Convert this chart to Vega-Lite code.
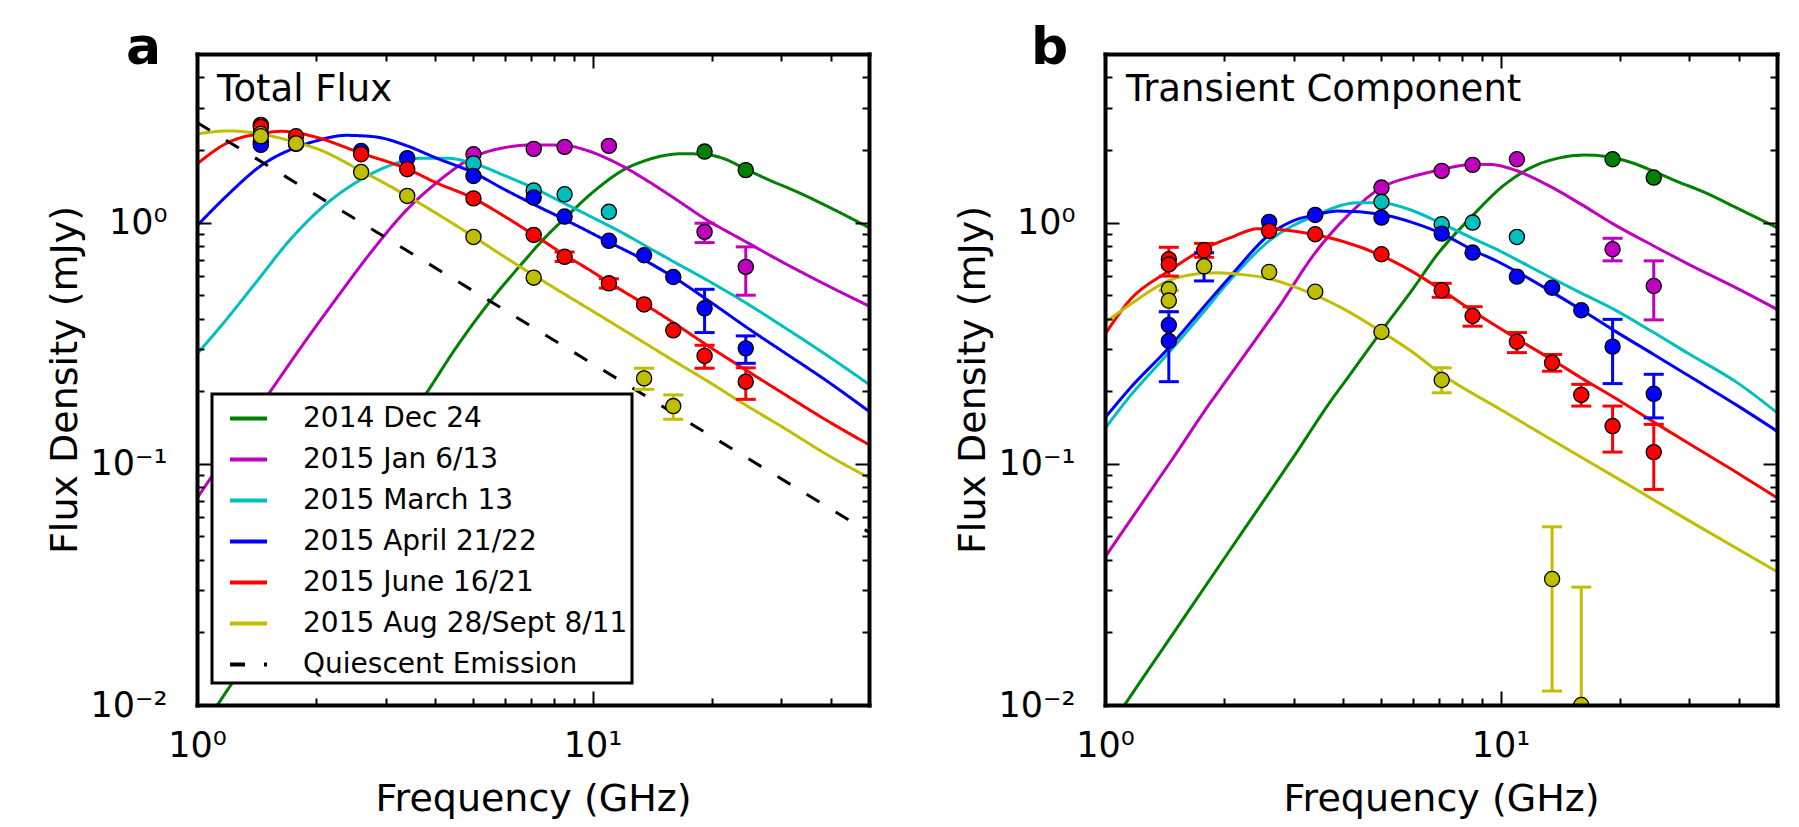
{
  "$schema": "https://vega.github.io/schema/vega-lite/v6.json",
  "background": "white",
  "padding": {"left": 46, "top": 21, "right": 5, "bottom": 5},
  "datasets": {
    "curvesA": [
      {"s":"2014 Dec 24","f":1.0,"v":0.0075},{"s":"2014 Dec 24","f":1.14,"v":0.0103},{"s":"2014 Dec 24","f":1.5,"v":0.0203},{"s":"2014 Dec 24","f":2.0,"v":0.041},{"s":"2014 Dec 24","f":2.5,"v":0.071},{"s":"2014 Dec 24","f":3.0,"v":0.112},{"s":"2014 Dec 24","f":3.8,"v":0.196},{"s":"2014 Dec 24","f":4.5,"v":0.3},{"s":"2014 Dec 24","f":5.5,"v":0.47},{"s":"2014 Dec 24","f":6.65,"v":0.68},{"s":"2014 Dec 24","f":7.5,"v":0.85},{"s":"2014 Dec 24","f":8.55,"v":1.05},{"s":"2014 Dec 24","f":10.2,"v":1.37},{"s":"2014 Dec 24","f":12.1,"v":1.67},{"s":"2014 Dec 24","f":13.5,"v":1.8},{"s":"2014 Dec 24","f":15.0,"v":1.89},{"s":"2014 Dec 24","f":17.0,"v":1.93},{"s":"2014 Dec 24","f":19.2,"v":1.92},{"s":"2014 Dec 24","f":21.5,"v":1.84},{"s":"2014 Dec 24","f":24.5,"v":1.66},{"s":"2014 Dec 24","f":28,"v":1.5},{"s":"2014 Dec 24","f":32.6,"v":1.35},{"s":"2014 Dec 24","f":40,"v":1.15},{"s":"2014 Dec 24","f":50,"v":0.953},
      {"s":"2015 Jan 6/13","f":1.0,"v":0.072},{"s":"2015 Jan 6/13","f":1.25,"v":0.123},{"s":"2015 Jan 6/13","f":1.55,"v":0.205},{"s":"2015 Jan 6/13","f":1.88,"v":0.323},{"s":"2015 Jan 6/13","f":2.29,"v":0.504},{"s":"2015 Jan 6/13","f":2.77,"v":0.763},{"s":"2015 Jan 6/13","f":3.37,"v":1.118},{"s":"2015 Jan 6/13","f":4.09,"v":1.49},{"s":"2015 Jan 6/13","f":4.97,"v":1.86},{"s":"2015 Jan 6/13","f":6.03,"v":2.05},{"s":"2015 Jan 6/13","f":7.1,"v":2.1},{"s":"2015 Jan 6/13","f":8.5,"v":2.09},{"s":"2015 Jan 6/13","f":9.6,"v":2.0},{"s":"2015 Jan 6/13","f":11,"v":1.83},{"s":"2015 Jan 6/13","f":12.1,"v":1.69},{"s":"2015 Jan 6/13","f":13.5,"v":1.52},{"s":"2015 Jan 6/13","f":16,"v":1.27},{"s":"2015 Jan 6/13","f":19.2,"v":1.04},{"s":"2015 Jan 6/13","f":24.5,"v":0.83},{"s":"2015 Jan 6/13","f":30,"v":0.69},{"s":"2015 Jan 6/13","f":40,"v":0.54},{"s":"2015 Jan 6/13","f":50,"v":0.451},
      {"s":"2015 March 13","f":1.0,"v":0.285},{"s":"2015 March 13","f":1.16,"v":0.379},{"s":"2015 March 13","f":1.41,"v":0.565},{"s":"2015 March 13","f":1.71,"v":0.84},{"s":"2015 March 13","f":2.07,"v":1.154},{"s":"2015 March 13","f":2.6,"v":1.51},{"s":"2015 March 13","f":3.06,"v":1.72},{"s":"2015 March 13","f":3.71,"v":1.85},{"s":"2015 March 13","f":4.26,"v":1.85},{"s":"2015 March 13","f":5.0,"v":1.76},{"s":"2015 March 13","f":6.03,"v":1.56},{"s":"2015 March 13","f":7.17,"v":1.38},{"s":"2015 March 13","f":8.5,"v":1.2},{"s":"2015 March 13","f":10,"v":1.05},{"s":"2015 March 13","f":12,"v":0.9},{"s":"2015 March 13","f":14,"v":0.78},{"s":"2015 March 13","f":16,"v":0.69},{"s":"2015 March 13","f":19.2,"v":0.585},{"s":"2015 March 13","f":24.4,"v":0.465},{"s":"2015 March 13","f":30,"v":0.375},{"s":"2015 March 13","f":40,"v":0.275},{"s":"2015 March 13","f":50,"v":0.2135},
      {"s":"2015 April 21/22","f":1.0,"v":0.97},{"s":"2015 April 21/22","f":1.2,"v":1.31},{"s":"2015 April 21/22","f":1.45,"v":1.72},{"s":"2015 April 21/22","f":1.78,"v":2.05},{"s":"2015 April 21/22","f":2.0,"v":2.18},{"s":"2015 April 21/22","f":2.38,"v":2.3},{"s":"2015 April 21/22","f":2.8,"v":2.27},{"s":"2015 April 21/22","f":3.4,"v":2.08},{"s":"2015 April 21/22","f":4.0,"v":1.86},{"s":"2015 April 21/22","f":5.0,"v":1.61},{"s":"2015 April 21/22","f":6.0,"v":1.37},{"s":"2015 April 21/22","f":7.1,"v":1.19},{"s":"2015 April 21/22","f":8.5,"v":1.03},{"s":"2015 April 21/22","f":10,"v":0.9},{"s":"2015 April 21/22","f":11,"v":0.83},{"s":"2015 April 21/22","f":13.5,"v":0.7},{"s":"2015 April 21/22","f":16,"v":0.595},{"s":"2015 April 21/22","f":20,"v":0.465},{"s":"2015 April 21/22","f":25,"v":0.36},{"s":"2015 April 21/22","f":30,"v":0.295},{"s":"2015 April 21/22","f":40,"v":0.215},{"s":"2015 April 21/22","f":50,"v":0.165},
      {"s":"2015 June 16/21","f":1.0,"v":1.75},{"s":"2015 June 16/21","f":1.2,"v":2.15},{"s":"2015 June 16/21","f":1.45,"v":2.34},{"s":"2015 June 16/21","f":1.64,"v":2.39},{"s":"2015 June 16/21","f":1.78,"v":2.36},{"s":"2015 June 16/21","f":2.0,"v":2.26},{"s":"2015 June 16/21","f":2.6,"v":1.94},{"s":"2015 June 16/21","f":3.4,"v":1.67},{"s":"2015 June 16/21","f":4.0,"v":1.47},{"s":"2015 June 16/21","f":5.0,"v":1.26},{"s":"2015 June 16/21","f":6.0,"v":1.06},{"s":"2015 June 16/21","f":7.1,"v":0.89},{"s":"2015 June 16/21","f":8.5,"v":0.735},{"s":"2015 June 16/21","f":10,"v":0.625},{"s":"2015 June 16/21","f":11,"v":0.565},{"s":"2015 June 16/21","f":13.5,"v":0.46},{"s":"2015 June 16/21","f":16,"v":0.385},{"s":"2015 June 16/21","f":19.2,"v":0.315},{"s":"2015 June 16/21","f":24.4,"v":0.245},{"s":"2015 June 16/21","f":30,"v":0.198},{"s":"2015 June 16/21","f":40,"v":0.148},{"s":"2015 June 16/21","f":50,"v":0.12},
      {"s":"2015 Aug 28/Sept 8/11","f":1.0,"v":2.33},{"s":"2015 Aug 28/Sept 8/11","f":1.2,"v":2.4},{"s":"2015 Aug 28/Sept 8/11","f":1.45,"v":2.33},{"s":"2015 Aug 28/Sept 8/11","f":1.78,"v":2.15},{"s":"2015 Aug 28/Sept 8/11","f":2.0,"v":2.03},{"s":"2015 Aug 28/Sept 8/11","f":2.6,"v":1.64},{"s":"2015 Aug 28/Sept 8/11","f":3.4,"v":1.29},{"s":"2015 Aug 28/Sept 8/11","f":4.0,"v":1.1},{"s":"2015 Aug 28/Sept 8/11","f":5.0,"v":0.875},{"s":"2015 Aug 28/Sept 8/11","f":6.0,"v":0.72},{"s":"2015 Aug 28/Sept 8/11","f":7.1,"v":0.605},{"s":"2015 Aug 28/Sept 8/11","f":8.5,"v":0.505},{"s":"2015 Aug 28/Sept 8/11","f":10,"v":0.43},{"s":"2015 Aug 28/Sept 8/11","f":13.5,"v":0.318},{"s":"2015 Aug 28/Sept 8/11","f":16,"v":0.268},{"s":"2015 Aug 28/Sept 8/11","f":20,"v":0.215},{"s":"2015 Aug 28/Sept 8/11","f":24,"v":0.178},{"s":"2015 Aug 28/Sept 8/11","f":30,"v":0.143},{"s":"2015 Aug 28/Sept 8/11","f":40,"v":0.107},{"s":"2015 Aug 28/Sept 8/11","f":50,"v":0.0875},
      {"s":"Quiescent Emission","f":1.0,"v":2.6},{"s":"Quiescent Emission","f":50,"v":0.052}
    ],
    "curvesB": [
      {"s":"2014 Dec 24","f":1.0,"v":0.0075},{"s":"2014 Dec 24","f":1.13,"v":0.0102},{"s":"2014 Dec 24","f":1.5,"v":0.0202},{"s":"2014 Dec 24","f":2.0,"v":0.0404},{"s":"2014 Dec 24","f":2.5,"v":0.069},{"s":"2014 Dec 24","f":3.0,"v":0.107},{"s":"2014 Dec 24","f":3.72,"v":0.182},{"s":"2014 Dec 24","f":4.05,"v":0.22},{"s":"2014 Dec 24","f":5.0,"v":0.355},{"s":"2014 Dec 24","f":6.0,"v":0.53},{"s":"2014 Dec 24","f":6.93,"v":0.74},{"s":"2014 Dec 24","f":8.41,"v":1.05},{"s":"2014 Dec 24","f":10.2,"v":1.43},{"s":"2014 Dec 24","f":12.4,"v":1.74},{"s":"2014 Dec 24","f":14,"v":1.85},{"s":"2014 Dec 24","f":16.3,"v":1.905},{"s":"2014 Dec 24","f":18.5,"v":1.88},{"s":"2014 Dec 24","f":21.5,"v":1.77},{"s":"2014 Dec 24","f":24.4,"v":1.63},{"s":"2014 Dec 24","f":28,"v":1.48},{"s":"2014 Dec 24","f":32.6,"v":1.34},{"s":"2014 Dec 24","f":40,"v":1.14},{"s":"2014 Dec 24","f":50,"v":0.953},
      {"s":"2015 Jan 6/13","f":1.0,"v":0.041},{"s":"2015 Jan 6/13","f":1.5,"v":0.108},{"s":"2015 Jan 6/13","f":1.85,"v":0.18},{"s":"2015 Jan 6/13","f":2.02,"v":0.22},{"s":"2015 Jan 6/13","f":2.29,"v":0.293},{"s":"2015 Jan 6/13","f":2.78,"v":0.4585},{"s":"2015 Jan 6/13","f":3.38,"v":0.74},{"s":"2015 Jan 6/13","f":4.1,"v":1.066},{"s":"2015 Jan 6/13","f":5.0,"v":1.397},{"s":"2015 Jan 6/13","f":6.05,"v":1.56},{"s":"2015 Jan 6/13","f":7.1,"v":1.66},{"s":"2015 Jan 6/13","f":8.5,"v":1.745},{"s":"2015 Jan 6/13","f":9.5,"v":1.74},{"s":"2015 Jan 6/13","f":11,"v":1.64},{"s":"2015 Jan 6/13","f":13.5,"v":1.4},{"s":"2015 Jan 6/13","f":16,"v":1.19},{"s":"2015 Jan 6/13","f":19.2,"v":0.99},{"s":"2015 Jan 6/13","f":24.4,"v":0.8},{"s":"2015 Jan 6/13","f":30,"v":0.67},{"s":"2015 Jan 6/13","f":40,"v":0.53},{"s":"2015 Jan 6/13","f":50,"v":0.437},
      {"s":"2015 March 13","f":1.0,"v":0.14},{"s":"2015 March 13","f":1.13,"v":0.182},{"s":"2015 March 13","f":1.45,"v":0.289},{"s":"2015 March 13","f":1.77,"v":0.424},{"s":"2015 March 13","f":2.08,"v":0.582},{"s":"2015 March 13","f":2.6,"v":0.84},{"s":"2015 March 13","f":3.4,"v":1.07},{"s":"2015 March 13","f":4.35,"v":1.21},{"s":"2015 March 13","f":5.0,"v":1.21},{"s":"2015 March 13","f":6.0,"v":1.12},{"s":"2015 March 13","f":7.1,"v":0.99},{"s":"2015 March 13","f":8.5,"v":0.86},{"s":"2015 March 13","f":10,"v":0.76},{"s":"2015 March 13","f":12,"v":0.65},{"s":"2015 March 13","f":14,"v":0.57},{"s":"2015 March 13","f":16,"v":0.51},{"s":"2015 March 13","f":19.2,"v":0.44},{"s":"2015 March 13","f":24.4,"v":0.35},{"s":"2015 March 13","f":30,"v":0.285},{"s":"2015 March 13","f":40,"v":0.215},{"s":"2015 March 13","f":50,"v":0.163},
      {"s":"2015 April 21/22","f":1.0,"v":0.155},{"s":"2015 April 21/22","f":1.16,"v":0.2067},{"s":"2015 April 21/22","f":1.45,"v":0.303},{"s":"2015 April 21/22","f":1.77,"v":0.444},{"s":"2015 April 21/22","f":2.08,"v":0.601},{"s":"2015 April 21/22","f":2.6,"v":0.89},{"s":"2015 April 21/22","f":3.0,"v":1.02},{"s":"2015 April 21/22","f":3.4,"v":1.076},{"s":"2015 April 21/22","f":3.87,"v":1.118},{"s":"2015 April 21/22","f":5.0,"v":1.083},{"s":"2015 April 21/22","f":6.0,"v":1.0},{"s":"2015 April 21/22","f":7.1,"v":0.9},{"s":"2015 April 21/22","f":8.5,"v":0.77},{"s":"2015 April 21/22","f":10,"v":0.68},{"s":"2015 April 21/22","f":11,"v":0.625},{"s":"2015 April 21/22","f":13.5,"v":0.515},{"s":"2015 April 21/22","f":16,"v":0.435},{"s":"2015 April 21/22","f":19.2,"v":0.36},{"s":"2015 April 21/22","f":24.4,"v":0.284},{"s":"2015 April 21/22","f":30,"v":0.231},{"s":"2015 April 21/22","f":40,"v":0.173},{"s":"2015 April 21/22","f":50,"v":0.1366},
      {"s":"2015 June 16/21","f":1.0,"v":0.344},{"s":"2015 June 16/21","f":1.16,"v":0.481},{"s":"2015 June 16/21","f":1.45,"v":0.63},{"s":"2015 June 16/21","f":1.77,"v":0.775},{"s":"2015 June 16/21","f":2.08,"v":0.867},{"s":"2015 June 16/21","f":2.43,"v":0.944},{"s":"2015 June 16/21","f":2.8,"v":0.935},{"s":"2015 June 16/21","f":3.4,"v":0.89},{"s":"2015 June 16/21","f":4.0,"v":0.835},{"s":"2015 June 16/21","f":5.0,"v":0.73},{"s":"2015 June 16/21","f":6.0,"v":0.625},{"s":"2015 June 16/21","f":7.1,"v":0.525},{"s":"2015 June 16/21","f":8.5,"v":0.43},{"s":"2015 June 16/21","f":11,"v":0.33},{"s":"2015 June 16/21","f":13.5,"v":0.27},{"s":"2015 June 16/21","f":16,"v":0.227},{"s":"2015 June 16/21","f":19.2,"v":0.19},{"s":"2015 June 16/21","f":24.4,"v":0.149},{"s":"2015 June 16/21","f":30,"v":0.121},{"s":"2015 June 16/21","f":40,"v":0.091},{"s":"2015 June 16/21","f":50,"v":0.0723},
      {"s":"2015 Aug 28/Sept 8/11","f":1.0,"v":0.385},{"s":"2015 Aug 28/Sept 8/11","f":1.16,"v":0.4585},{"s":"2015 Aug 28/Sept 8/11","f":1.45,"v":0.575},{"s":"2015 Aug 28/Sept 8/11","f":1.7,"v":0.612},{"s":"2015 Aug 28/Sept 8/11","f":1.93,"v":0.62},{"s":"2015 Aug 28/Sept 8/11","f":2.2,"v":0.61},{"s":"2015 Aug 28/Sept 8/11","f":2.6,"v":0.585},{"s":"2015 Aug 28/Sept 8/11","f":3.4,"v":0.5},{"s":"2015 Aug 28/Sept 8/11","f":4.0,"v":0.44},{"s":"2015 Aug 28/Sept 8/11","f":5.0,"v":0.353},{"s":"2015 Aug 28/Sept 8/11","f":6.0,"v":0.29},{"s":"2015 Aug 28/Sept 8/11","f":7.1,"v":0.235},{"s":"2015 Aug 28/Sept 8/11","f":10,"v":0.168},{"s":"2015 Aug 28/Sept 8/11","f":14,"v":0.121},{"s":"2015 Aug 28/Sept 8/11","f":20,"v":0.086},{"s":"2015 Aug 28/Sept 8/11","f":30,"v":0.058},{"s":"2015 Aug 28/Sept 8/11","f":50,"v":0.0357}
    ],
    "ptsA": [
      {"s":"2014 Dec 24","f":19.2,"v":1.97},{"s":"2014 Dec 24","f":24.4,"v":1.65},
      {"s":"2015 Jan 6/13","f":5.0,"v":1.92},{"s":"2015 Jan 6/13","f":7.1,"v":2.02},{"s":"2015 Jan 6/13","f":8.5,"v":2.06},{"s":"2015 Jan 6/13","f":11.0,"v":2.08},{"s":"2015 Jan 6/13","f":19.2,"v":0.915,"lo":0.826,"hi":0.994},{"s":"2015 Jan 6/13","f":24.4,"v":0.655,"lo":0.5,"hi":0.793},
      {"s":"2015 March 13","f":5.0,"v":1.76},{"s":"2015 March 13","f":7.1,"v":1.36},{"s":"2015 March 13","f":8.5,"v":1.31},{"s":"2015 March 13","f":11.0,"v":1.108},
      {"s":"2015 April 21/22","f":1.45,"v":2.16},{"s":"2015 April 21/22","f":1.45,"v":2.1},{"s":"2015 April 21/22","f":1.78,"v":2.12},{"s":"2015 April 21/22","f":2.6,"v":1.98},{"s":"2015 April 21/22","f":3.4,"v":1.85},{"s":"2015 April 21/22","f":5.0,"v":1.56},{"s":"2015 April 21/22","f":7.1,"v":1.27},{"s":"2015 April 21/22","f":8.5,"v":1.059},{"s":"2015 April 21/22","f":11.0,"v":0.84},{"s":"2015 April 21/22","f":13.5,"v":0.732},{"s":"2015 April 21/22","f":16.0,"v":0.595},{"s":"2015 April 21/22","f":19.2,"v":0.441,"lo":0.35,"hi":0.529},{"s":"2015 April 21/22","f":24.4,"v":0.301,"lo":0.261,"hi":0.339},
      {"s":"2015 June 16/21","f":1.45,"v":2.54},{"s":"2015 June 16/21","f":1.45,"v":2.49},{"s":"2015 June 16/21","f":1.78,"v":2.28},{"s":"2015 June 16/21","f":2.6,"v":1.92},{"s":"2015 June 16/21","f":3.4,"v":1.665},{"s":"2015 June 16/21","f":5.0,"v":1.26},{"s":"2015 June 16/21","f":7.1,"v":0.889},{"s":"2015 June 16/21","f":8.5,"v":0.721,"lo":0.69,"hi":0.755},{"s":"2015 June 16/21","f":11.0,"v":0.56,"lo":0.535,"hi":0.585},{"s":"2015 June 16/21","f":13.5,"v":0.458},{"s":"2015 June 16/21","f":16.0,"v":0.3575},{"s":"2015 June 16/21","f":19.2,"v":0.28,"lo":0.249,"hi":0.31},{"s":"2015 June 16/21","f":24.4,"v":0.219,"lo":0.185,"hi":0.25},
      {"s":"2015 Aug 28/Sept 8/11","f":1.45,"v":2.33},{"s":"2015 Aug 28/Sept 8/11","f":1.45,"v":2.28},{"s":"2015 Aug 28/Sept 8/11","f":1.78,"v":2.13},{"s":"2015 Aug 28/Sept 8/11","f":2.6,"v":1.62},{"s":"2015 Aug 28/Sept 8/11","f":3.4,"v":1.29},{"s":"2015 Aug 28/Sept 8/11","f":5.0,"v":0.872},{"s":"2015 Aug 28/Sept 8/11","f":7.1,"v":0.591},{"s":"2015 Aug 28/Sept 8/11","f":13.5,"v":0.226,"lo":0.2035,"hi":0.249},{"s":"2015 Aug 28/Sept 8/11","f":16.0,"v":0.1735,"lo":0.153,"hi":0.193}
    ],
    "ptsB": [
      {"s":"2014 Dec 24","f":19.2,"v":1.83},{"s":"2014 Dec 24","f":24.4,"v":1.537},
      {"s":"2015 Jan 6/13","f":5.0,"v":1.397},{"s":"2015 Jan 6/13","f":7.1,"v":1.638},{"s":"2015 Jan 6/13","f":8.5,"v":1.735},{"s":"2015 Jan 6/13","f":11.0,"v":1.83},{"s":"2015 Jan 6/13","f":19.2,"v":0.775,"lo":0.694,"hi":0.861},{"s":"2015 Jan 6/13","f":24.4,"v":0.546,"lo":0.395,"hi":0.694},
      {"s":"2015 March 13","f":5.0,"v":1.219},{"s":"2015 March 13","f":7.1,"v":0.984},{"s":"2015 March 13","f":8.5,"v":1.0},{"s":"2015 March 13","f":11.0,"v":0.872},
      {"s":"2015 April 21/22","f":1.45,"v":0.376},{"s":"2015 April 21/22","f":1.45,"v":0.323,"lo":0.219,"hi":0.427},{"s":"2015 April 21/22","f":1.78,"v":0.66,"lo":0.573,"hi":0.75},{"s":"2015 April 21/22","f":2.6,"v":1.007},{"s":"2015 April 21/22","f":3.4,"v":1.076},{"s":"2015 April 21/22","f":5.0,"v":1.049},{"s":"2015 April 21/22","f":7.1,"v":0.9},{"s":"2015 April 21/22","f":8.5,"v":0.751},{"s":"2015 April 21/22","f":11.0,"v":0.597},{"s":"2015 April 21/22","f":13.5,"v":0.537},{"s":"2015 April 21/22","f":16.0,"v":0.433},{"s":"2015 April 21/22","f":19.2,"v":0.306,"lo":0.215,"hi":0.397},{"s":"2015 April 21/22","f":24.4,"v":0.195,"lo":0.155,"hi":0.235},
      {"s":"2015 June 16/21","f":1.45,"v":0.705,"lo":0.6,"hi":0.79},{"s":"2015 June 16/21","f":1.45,"v":0.671},{"s":"2015 June 16/21","f":1.78,"v":0.768,"lo":0.718,"hi":0.82},{"s":"2015 June 16/21","f":2.6,"v":0.924},{"s":"2015 June 16/21","f":3.4,"v":0.895},{"s":"2015 June 16/21","f":5.0,"v":0.739},{"s":"2015 June 16/21","f":7.1,"v":0.524,"lo":0.49,"hi":0.56},{"s":"2015 June 16/21","f":8.5,"v":0.41,"lo":0.372,"hi":0.448},{"s":"2015 June 16/21","f":11.0,"v":0.3206,"lo":0.289,"hi":0.35},{"s":"2015 June 16/21","f":13.5,"v":0.2625,"lo":0.242,"hi":0.284},{"s":"2015 June 16/21","f":16.0,"v":0.193,"lo":0.1735,"hi":0.2135},{"s":"2015 June 16/21","f":19.2,"v":0.1433,"lo":0.1118,"hi":0.1735},{"s":"2015 June 16/21","f":24.4,"v":0.1118,"lo":0.0783,"hi":0.1457},
      {"s":"2015 Aug 28/Sept 8/11","f":1.45,"v":0.53},{"s":"2015 Aug 28/Sept 8/11","f":1.45,"v":0.475,"lo":0.427,"hi":0.523},{"s":"2015 Aug 28/Sept 8/11","f":1.78,"v":0.659},{"s":"2015 Aug 28/Sept 8/11","f":2.6,"v":0.624},{"s":"2015 Aug 28/Sept 8/11","f":3.4,"v":0.517},{"s":"2015 Aug 28/Sept 8/11","f":5.0,"v":0.352},{"s":"2015 Aug 28/Sept 8/11","f":7.1,"v":0.2226,"lo":0.197,"hi":0.25},{"s":"2015 Aug 28/Sept 8/11","f":13.5,"v":0.0333,"lo":0.01143,"hi":0.0548},{"s":"2015 Aug 28/Sept 8/11","f":16.0,"v":0.01,"lo":0.004,"hi":0.0308}
    ]
  },
  "hconcat": [
    {
      "width": 672, "height": 651,
      "resolve": {"axis": {"x": "independent", "y": "independent"}},
      "layer": [
        {
          "data": {"name": "curvesA"},
          "mark": {"type": "line", "strokeWidth": 3, "interpolate": "monotone", "clip": true},
          "encoding": {
            "x": {"field": "f", "type": "quantitative", "scale": {"type": "log", "domain": [1, 50], "nice": false},
              "axis": {"orient": "bottom", "values": [1,2,3,4,5,6,7,8,9,10,20,30,40], "labelExpr": "datum.value == 1 ? '10⁰' : datum.value == 10 ? '10¹' : ''", "tickSize": {"condition": {"test": "datum.value == 1 || datum.value == 10", "value": -14}, "value": -7}, "tickWidth": 2, "tickColor": "black", "domain": true, "domainColor": "black", "domainWidth": 4, "domainCap": "square", "labelFontSize": 35, "labelColor": "black", "labelPadding": 37, "labelFlush": false, "labelOverlap": false, "labelBound": false, "title": "Frequency (GHz)", "titleFontSize": 38, "titleFontWeight": "normal", "titleColor": "black", "titlePadding": 10, "grid": false, "zindex": 2}},
            "y": {"field": "v", "type": "quantitative", "scale": {"type": "log", "domain": [0.01, 5], "nice": false},
              "axis": {"orient": "left", "values": [0.01,0.02,0.03,0.04,0.05,0.06,0.07,0.08,0.09,0.1,0.2,0.3,0.4,0.5,0.6,0.7,0.8,0.9,1,2,3,4], "labelExpr": "datum.value == 1 ? '10⁰' : datum.value == 0.1 ? '10⁻¹' : datum.value == 0.01 ? '10⁻²' : ''", "tickSize": {"condition": {"test": "datum.value == 0.01 || datum.value == 0.1 || datum.value == 1", "value": -14}, "value": -7}, "tickWidth": 2, "tickColor": "black", "domain": true, "domainColor": "black", "domainWidth": 4, "domainCap": "square", "labelFontSize": 35, "labelColor": "black", "labelPadding": 44, "labelFlush": false, "labelOverlap": false, "labelBound": false, "title": "Flux Density (mJy)", "titleFontSize": 38, "titleFontWeight": "normal", "titleColor": "black", "titlePadding": 5, "grid": false, "zindex": 2}},
            "color": {"field": "s", "type": "nominal",
              "scale": {"domain": ["2014 Dec 24","2015 Jan 6/13","2015 March 13","2015 April 21/22","2015 June 16/21","2015 Aug 28/Sept 8/11","Quiescent Emission"], "range": ["#008000","#bf00bf","#00bfbf","#0000ff","#ff0000","#bfbf00","#000000"]},
              "legend": {"orient": "none", "legendX": 15, "legendY": 340, "title": null, "labelFontSize": 28, "labelColor": "black", "labelLimit": 600, "symbolType": "stroke", "symbolSize": 1369, "symbolStrokeWidth": 4, "labelOffset": 34, "symbolOffset": 12, "padding": 4, "rowPadding": 6, "strokeColor": "black", "fillColor": "white", "zindex": 3}},
            "strokeDash": {"field": "s", "type": "nominal",
              "scale": {"domain": ["2014 Dec 24","2015 Jan 6/13","2015 March 13","2015 April 21/22","2015 June 16/21","2015 Aug 28/Sept 8/11","Quiescent Emission"], "range": [[1,0],[1,0],[1,0],[1,0],[1,0],[1,0],[15,19]]},
              "legend": {"orient": "none", "legendX": 15, "legendY": 340, "title": null, "labelFontSize": 28, "labelColor": "black", "labelLimit": 600, "symbolType": "stroke", "symbolSize": 1369, "symbolStrokeWidth": 4, "labelOffset": 34, "symbolOffset": 12, "padding": 4, "rowPadding": 6, "strokeColor": "black", "fillColor": "white", "zindex": 3}}
          }
        },
        {
          "data": {"name": "ptsA"},
          "mark": {"type": "rule", "strokeWidth": 3, "clip": true},
          "encoding": {
            "x": {"field": "f", "type": "quantitative",
              "axis": {"orient": "top", "values": [1,2,3,4,5,6,7,8,9,10,20,30,40], "labels": false, "tickSize": {"condition": {"test": "datum.value == 1 || datum.value == 10", "value": -14}, "value": -7}, "tickWidth": 2, "tickColor": "black", "domain": true, "domainColor": "black", "domainWidth": 4, "domainCap": "square", "title": null, "grid": false, "zindex": 2}},
            "y": {"field": "lo", "type": "quantitative",
              "axis": {"orient": "right", "values": [0.01,0.02,0.03,0.04,0.05,0.06,0.07,0.08,0.09,0.1,0.2,0.3,0.4,0.5,0.6,0.7,0.8,0.9,1,2,3,4], "labels": false, "tickSize": {"condition": {"test": "datum.value == 0.01 || datum.value == 0.1 || datum.value == 1", "value": -14}, "value": -7}, "tickWidth": 2, "tickColor": "black", "domain": true, "domainColor": "black", "domainWidth": 4, "domainCap": "square", "title": null, "grid": false, "zindex": 2}},
            "y2": {"field": "hi"},
            "stroke": {"field": "s", "type": "nominal", "scale": {"domain": ["2014 Dec 24","2015 Jan 6/13","2015 March 13","2015 April 21/22","2015 June 16/21","2015 Aug 28/Sept 8/11"], "range": ["#008000","#bf00bf","#00bfbf","#0000ff","#ff0000","#bfbf00"]}, "legend": null}
          }
        },
        {
          "data": {"name": "ptsA"},
          "mark": {"type": "point", "shape": "stroke", "size": 400, "strokeWidth": 3, "filled": false, "opacity": 1, "clip": true},
          "encoding": {
            "x": {"field": "f", "type": "quantitative", "axis": null},
            "y": {"field": "lo", "type": "quantitative", "axis": null},
            "stroke": {"field": "s", "type": "nominal", "legend": null}
          }
        },
        {
          "data": {"name": "ptsA"},
          "mark": {"type": "point", "shape": "stroke", "size": 400, "strokeWidth": 3, "filled": false, "opacity": 1, "clip": true},
          "encoding": {
            "x": {"field": "f", "type": "quantitative", "axis": null},
            "y": {"field": "hi", "type": "quantitative", "axis": null},
            "stroke": {"field": "s", "type": "nominal", "legend": null}
          }
        },
        {
          "data": {"name": "ptsA"},
          "mark": {"type": "point", "shape": "circle", "filled": true, "size": 230, "stroke": "black", "strokeWidth": 1.3, "opacity": 1, "clip": true},
          "encoding": {
            "x": {"field": "f", "type": "quantitative", "axis": null},
            "y": {"field": "v", "type": "quantitative", "axis": null},
            "fill": {"field": "s", "type": "nominal", "scale": {"domain": ["2014 Dec 24","2015 Jan 6/13","2015 March 13","2015 April 21/22","2015 June 16/21","2015 Aug 28/Sept 8/11"], "range": ["#008000","#bf00bf","#00bfbf","#0000ff","#ff0000","#bfbf00"]}, "legend": null}
          }
        },
        {
          "data": {"values": [{}]},
          "mark": {"type": "text", "text": "Total Flux", "align": "left", "baseline": "alphabetic", "fontSize": 37, "color": "black"},
          "encoding": {
            "x": {"datum": 1.124, "type": "quantitative", "axis": null},
            "y": {"datum": 3.2, "type": "quantitative", "axis": null}
          }
        },
        {
          "data": {"values": [{}]},
          "mark": {"type": "text", "text": "a", "align": "left", "baseline": "alphabetic", "fontSize": 52, "fontWeight": "bold", "color": "black"},
          "encoding": {
            "x": {"datum": 0.661, "type": "quantitative", "axis": null},
            "y": {"datum": 4.546, "type": "quantitative", "axis": null}
          }
        }
      ]
    },
    {
      "width": 672, "height": 651,
      "resolve": {"axis": {"x": "independent", "y": "independent"}},
      "layer": [
        {
          "data": {"name": "curvesB"},
          "mark": {"type": "line", "strokeWidth": 3, "interpolate": "monotone", "clip": true},
          "encoding": {
            "x": {"field": "f", "type": "quantitative", "scale": {"type": "log", "domain": [1, 50], "nice": false},
              "axis": {"orient": "bottom", "values": [1,2,3,4,5,6,7,8,9,10,20,30,40], "labelExpr": "datum.value == 1 ? '10⁰' : datum.value == 10 ? '10¹' : ''", "tickSize": {"condition": {"test": "datum.value == 1 || datum.value == 10", "value": -14}, "value": -7}, "tickWidth": 2, "tickColor": "black", "domain": true, "domainColor": "black", "domainWidth": 4, "domainCap": "square", "labelFontSize": 35, "labelColor": "black", "labelPadding": 37, "labelFlush": false, "labelOverlap": false, "labelBound": false, "title": "Frequency (GHz)", "titleFontSize": 38, "titleFontWeight": "normal", "titleColor": "black", "titlePadding": 10, "grid": false, "zindex": 2}},
            "y": {"field": "v", "type": "quantitative", "scale": {"type": "log", "domain": [0.01, 5], "nice": false},
              "axis": {"orient": "left", "values": [0.01,0.02,0.03,0.04,0.05,0.06,0.07,0.08,0.09,0.1,0.2,0.3,0.4,0.5,0.6,0.7,0.8,0.9,1,2,3,4], "labelExpr": "datum.value == 1 ? '10⁰' : datum.value == 0.1 ? '10⁻¹' : datum.value == 0.01 ? '10⁻²' : ''", "tickSize": {"condition": {"test": "datum.value == 0.01 || datum.value == 0.1 || datum.value == 1", "value": -14}, "value": -7}, "tickWidth": 2, "tickColor": "black", "domain": true, "domainColor": "black", "domainWidth": 4, "domainCap": "square", "labelFontSize": 35, "labelColor": "black", "labelPadding": 44, "labelFlush": false, "labelOverlap": false, "labelBound": false, "title": "Flux Density (mJy)", "titleFontSize": 38, "titleFontWeight": "normal", "titleColor": "black", "titlePadding": 5, "grid": false, "zindex": 2}},
            "color": {"field": "s", "type": "nominal",
              "scale": {"domain": ["2014 Dec 24","2015 Jan 6/13","2015 March 13","2015 April 21/22","2015 June 16/21","2015 Aug 28/Sept 8/11"], "range": ["#008000","#bf00bf","#00bfbf","#0000ff","#ff0000","#bfbf00"]},
              "legend": null}
          }
        },
        {
          "data": {"name": "ptsB"},
          "mark": {"type": "rule", "strokeWidth": 3, "clip": true},
          "encoding": {
            "x": {"field": "f", "type": "quantitative",
              "axis": {"orient": "top", "values": [1,2,3,4,5,6,7,8,9,10,20,30,40], "labels": false, "tickSize": {"condition": {"test": "datum.value == 1 || datum.value == 10", "value": -14}, "value": -7}, "tickWidth": 2, "tickColor": "black", "domain": true, "domainColor": "black", "domainWidth": 4, "domainCap": "square", "title": null, "grid": false, "zindex": 2}},
            "y": {"field": "lo", "type": "quantitative",
              "axis": {"orient": "right", "values": [0.01,0.02,0.03,0.04,0.05,0.06,0.07,0.08,0.09,0.1,0.2,0.3,0.4,0.5,0.6,0.7,0.8,0.9,1,2,3,4], "labels": false, "tickSize": {"condition": {"test": "datum.value == 0.01 || datum.value == 0.1 || datum.value == 1", "value": -14}, "value": -7}, "tickWidth": 2, "tickColor": "black", "domain": true, "domainColor": "black", "domainWidth": 4, "domainCap": "square", "title": null, "grid": false, "zindex": 2}},
            "y2": {"field": "hi"},
            "stroke": {"field": "s", "type": "nominal", "scale": {"domain": ["2014 Dec 24","2015 Jan 6/13","2015 March 13","2015 April 21/22","2015 June 16/21","2015 Aug 28/Sept 8/11"], "range": ["#008000","#bf00bf","#00bfbf","#0000ff","#ff0000","#bfbf00"]}, "legend": null}
          }
        },
        {
          "data": {"name": "ptsB"},
          "mark": {"type": "point", "shape": "stroke", "size": 400, "strokeWidth": 3, "filled": false, "opacity": 1, "clip": true},
          "encoding": {
            "x": {"field": "f", "type": "quantitative", "axis": null},
            "y": {"field": "lo", "type": "quantitative", "axis": null},
            "stroke": {"field": "s", "type": "nominal", "legend": null}
          }
        },
        {
          "data": {"name": "ptsB"},
          "mark": {"type": "point", "shape": "stroke", "size": 400, "strokeWidth": 3, "filled": false, "opacity": 1, "clip": true},
          "encoding": {
            "x": {"field": "f", "type": "quantitative", "axis": null},
            "y": {"field": "hi", "type": "quantitative", "axis": null},
            "stroke": {"field": "s", "type": "nominal", "legend": null}
          }
        },
        {
          "data": {"name": "ptsB"},
          "mark": {"type": "point", "shape": "circle", "filled": true, "size": 230, "stroke": "black", "strokeWidth": 1.3, "opacity": 1, "clip": true},
          "encoding": {
            "x": {"field": "f", "type": "quantitative", "axis": null},
            "y": {"field": "v", "type": "quantitative", "axis": null},
            "fill": {"field": "s", "type": "nominal", "scale": {"domain": ["2014 Dec 24","2015 Jan 6/13","2015 March 13","2015 April 21/22","2015 June 16/21","2015 Aug 28/Sept 8/11"], "range": ["#008000","#bf00bf","#00bfbf","#0000ff","#ff0000","#bfbf00"]}, "legend": null}
          }
        },
        {
          "data": {"values": [{}]},
          "mark": {"type": "text", "text": "Transient Component", "align": "left", "baseline": "alphabetic", "fontSize": 37, "color": "black"},
          "encoding": {
            "x": {"datum": 1.13, "type": "quantitative", "axis": null},
            "y": {"datum": 3.2, "type": "quantitative", "axis": null}
          }
        },
        {
          "data": {"values": [{}]},
          "mark": {"type": "text", "text": "b", "align": "left", "baseline": "alphabetic", "fontSize": 52, "fontWeight": "bold", "color": "black"},
          "encoding": {
            "x": {"datum": 0.65, "type": "quantitative", "axis": null},
            "y": {"datum": 4.546, "type": "quantitative", "axis": null}
          }
        }
      ]
    }
  ],
  "spacing": 84,
  "resolve": {"scale": {"color": "independent", "strokeDash": "independent", "fill": "independent", "stroke": "independent"}, "legend": {"color": "independent", "strokeDash": "independent"}},
  "config": {
    "font": "DejaVu Sans",
    "view": {"stroke": null},
    "legend": {"strokeWidth": 3}
  }
}
